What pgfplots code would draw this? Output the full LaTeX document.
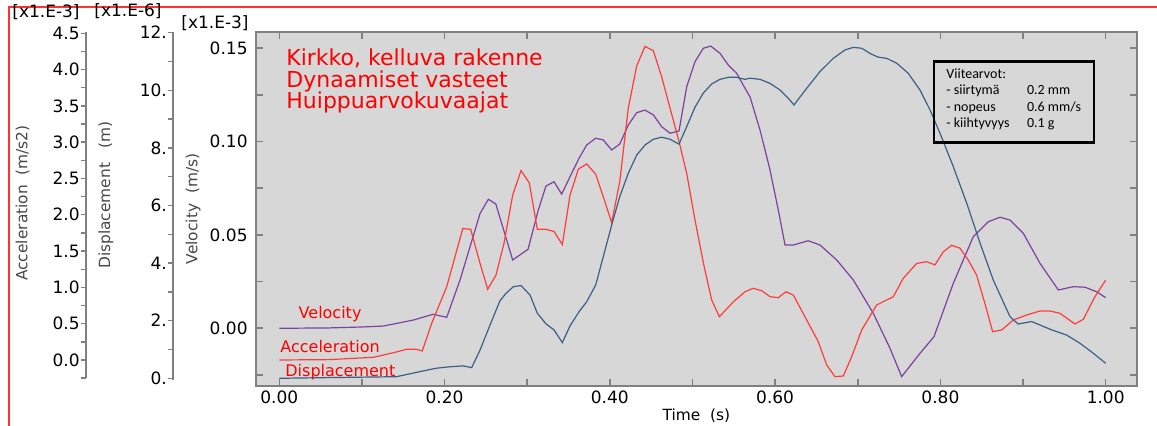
\documentclass[border=0pt]{standalone}
\usepackage{pgfplots}
\pgfplotsset{compat=1.18}
\usepackage{fontspec}
\setmainfont{DejaVu Sans}
\newfontfamily\carlito{Carlito}
\definecolor{bggray}{RGB}{215,215,215}
\definecolor{axgray}{RGB}{128,128,128}
\definecolor{cred}{RGB}{255,60,60}
\definecolor{cpurple}{RGB}{125,65,160}
\definecolor{cblue}{RGB}{60,95,135}
\definecolor{framered}{RGB}{255,50,50}
\newcommand{\tfont}{\fontsize{8.5}{10}\selectfont}
\newcommand{\lfont}{\fontsize{7.7}{9}\selectfont}
\begin{document}
\begin{tikzpicture}
\useasboundingbox (0,0) rectangle (578.5pt,213pt);
% main axis (velocity)
\begin{axis}[at={(128pt,20pt)}, anchor=south west, scale only axis,
  width=440.5pt, height=177pt,
  xmin=-0.0282, xmax=1.0379, ymin=-0.03091, ymax=0.15873,
  axis background/.style={fill=bggray},
  axis line style={axgray, line width=1pt},
  tick align=inside,
  xtick={0,0.2,0.4,0.6,0.8,1}, xticklabels={0.00,0.20,0.40,0.60,0.80,1.00},
  minor xtick={0.1,0.3,0.5,0.7,0.9},
  ytick={0,0.05,0.1,0.15}, yticklabels={0.00,0.05,0.10,0.15},
  minor ytick={-0.025,0.025,0.075,0.125},
  major tick length=3.5pt, minor tick length=3.5pt,
  tick style={axgray, line width=0.8pt},
  xticklabel style={font=\tfont, inner sep=0pt, yshift=-2pt},
  yticklabel style={font=\tfont, inner sep=0pt, xshift=-4pt},
]
\addplot[cpurple, line width=0.6pt] table {
0 0
0.06 0.0002
0.1 0.0007
0.126 0.0012
0.162 0.0044
0.186 0.0075
0.2026 0.0059
0.2187 0.0259
0.243 0.0616
0.253 0.0691
0.262 0.0666
0.2824 0.0366
0.301 0.0423
0.3134 0.0634
0.3227 0.0762
0.3324 0.0785
0.3417 0.0719
0.3518 0.0812
0.3627 0.0911
0.372 0.0982
0.3829 0.1018
0.392 0.1009
0.4022 0.0955
0.412 0.0987
0.4223 0.1089
0.4325 0.1155
0.4425 0.1169
0.4526 0.1143
0.4627 0.108
0.4728 0.1045
0.4837 0.1057
0.493 0.1294
0.503 0.1428
0.513 0.150
0.522 0.1512
0.5333 0.1473
0.5433 0.141
0.5535 0.1366
0.5635 0.1286
0.5696 0.124
0.5817 0.1062
0.5938 0.0848
0.6038 0.0634
0.612 0.0446
0.622 0.0446
0.64 0.0469
0.6543 0.0446
0.6745 0.0366
0.6946 0.0259
0.7188 0.008
0.739 -0.0107
0.7531 -0.0259
0.7753 -0.0134
0.7922 -0.0045
0.8156 0.0241
0.8398 0.0491
0.858 0.0571
0.8721 0.0595
0.8842 0.058
0.9003 0.0509
0.9205 0.0348
0.9427 0.0205
0.9608 0.0223
0.975 0.022
0.989 0.0196
1.0 0.0164
};
\end{axis}
% acceleration curve (x1e-3 m/s2)
\begin{axis}[at={(128pt,20pt)}, anchor=south west, scale only axis,
  width=440.5pt, height=177pt, hide axis,
  xmin=-0.0282, xmax=1.0379, ymin=-0.3581, ymax=4.5179]
\addplot[cred, line width=0.6pt] table {
0 0
0.06 0.005
0.1138 0.037
0.138 0.10
0.154 0.147
0.166 0.147
0.173 0.124
0.1844 0.505
0.2026 1.01
0.222 1.81
0.2316 1.80
0.2429 1.33
0.2522 0.974
0.2622 1.17
0.2719 1.607
0.2824 2.27
0.2925 2.61
0.3025 2.44
0.3122 1.80
0.3227 1.80
0.3324 1.77
0.3425 1.59
0.3518 2.27
0.3619 2.63
0.372 2.70
0.3829 2.56
0.392 2.25
0.4022 1.89
0.412 2.46
0.4223 3.47
0.4325 4.05
0.4425 4.32
0.4526 4.26
0.4627 3.90
0.4728 3.47
0.4837 3.01
0.493 2.57
0.503 1.93
0.5133 1.33
0.5232 0.826
0.5325 0.596
0.5494 0.80
0.5635 0.94
0.5736 0.987
0.5837 0.955
0.5938 0.872
0.6038 0.858
0.6131 0.94
0.622 0.895
0.6382 0.551
0.6522 0.252
0.6624 -0.069
0.6724 -0.23
0.6825 -0.22
0.6926 0.045
0.7047 0.413
0.7229 0.758
0.743 0.872
0.755 1.125
0.7713 1.33
0.7834 1.354
0.7934 1.31
0.8035 1.49
0.8136 1.58
0.8237 1.54
0.8337 1.377
0.8438 1.17
0.8538 0.78
0.8632 0.39
0.8741 0.413
0.8882 0.551
0.9044 0.62
0.9205 0.675
0.9326 0.675
0.9447 0.643
0.9628 0.496
0.9729 0.56
0.987 0.872
1.0 1.10
};
\end{axis}
% displacement curve (x1e-6 m)
\begin{axis}[at={(128pt,20pt)}, anchor=south west, scale only axis,
  width=440.5pt, height=177pt, hide axis,
  xmin=-0.0282, xmax=1.0379, ymin=-0.2674, ymax=12.0243]
\addplot[cblue, line width=0.6pt] table {
0 0
0.142 0.056
0.170 0.23
0.190 0.35
0.2066 0.40
0.2227 0.43
0.2328 0.37
0.2429 0.98
0.255 1.85
0.267 2.69
0.2743 2.95
0.2832 3.18
0.2925 3.22
0.3034 2.89
0.3122 2.26
0.3227 1.89
0.3324 1.68
0.3425 1.24
0.3518 1.82
0.3627 2.31
0.372 2.66
0.3829 3.24
0.392 4.22
0.4022 5.32
0.412 6.31
0.4223 7.12
0.4325 7.75
0.4425 8.10
0.4526 8.30
0.4627 8.37
0.4728 8.30
0.4837 8.13
0.493 8.74
0.503 9.41
0.513 9.90
0.5232 10.22
0.5333 10.38
0.5433 10.45
0.5535 10.45
0.5635 10.38
0.5696 10.42
0.5817 10.38
0.5938 10.24
0.6059 10.01
0.616 9.72
0.6228 9.49
0.6382 10.07
0.6543 10.65
0.6704 11.11
0.6845 11.40
0.6946 11.49
0.7047 11.46
0.7148 11.28
0.7248 11.15
0.735 11.11
0.7471 10.94
0.7611 10.59
0.7753 10.01
0.7874 9.32
0.7995 8.51
0.8156 7.35
0.8318 6.08
0.848 4.69
0.864 3.41
0.8842 2.14
0.894 1.885
0.9104 1.97
0.9347 1.68
0.9528 1.50
0.9689 1.215
0.985 0.87
1.0 0.52
};
\end{axis}
% displacement y axis
\begin{axis}[at={(86.65pt,22.99pt)}, anchor=south west, scale only axis,
  width=1pt, height=174.1pt, xmin=0, xmax=1, ymin=-0.06, ymax=12.03,
  hide x axis, axis y line*=left,
  y axis line style={axgray, line width=0.9pt},
  ytick={0,2,4,6,8,10,12}, yticklabels={0.,2.,4.,6.,8.,10.,12.},
  minor ytick={1,3,5,7,9,11},
  tick align=outside, ytick pos=left,
  major tick length=2.5pt, minor tick length=2.5pt,
  tick style={axgray, line width=0.7pt},
  yticklabel style={font=\tfont, inner sep=0pt, xshift=-0.5pt}]
\end{axis}
% acceleration y axis
\begin{axis}[at={(43pt,23.93pt)}, anchor=south west, scale only axis,
  width=1pt, height=173.15pt, xmin=0, xmax=1, ymin=-0.25, ymax=4.52,
  hide x axis, axis y line*=left,
  y axis line style={axgray, line width=0.9pt},
  ytick={0,0.5,1,1.5,2,2.5,3,3.5,4,4.5},
  yticklabels={0.0,0.5,1.0,1.5,2.0,2.5,3.0,3.5,4.0,4.5},
  minor ytick={-0.25,0.25,0.75,1.25,1.75,2.25,2.75,3.25,3.75,4.25},
  tick align=outside, ytick pos=left,
  major tick length=2.5pt, minor tick length=2.5pt,
  tick style={axgray, line width=0.7pt},
  yticklabel style={font=\tfont, inner sep=0pt, xshift=-0.5pt}]
\end{axis}
% frame lines
\draw[framered, line width=1pt] (4.5pt,0) -- (4.5pt,209.65pt) -- (578.5pt,209.65pt);
% scale labels
\node[font=\tfont] at (23pt,207pt) {[x1.E-3]};
\node[font=\tfont] at (64pt,207.5pt) {[x1.E-6]};
\node[font=\tfont] at (107.5pt,201.25pt) {[x1.E-3]};
% axis titles
\node[font=\lfont, text=black!72, rotate=90] at (11.25pt,111.5pt) {Acceleration\ \ (m/s2)};
\node[font=\lfont, text=black!72, rotate=90] at (53pt,115.5pt) {Displacement\ \ \ (m)};
\node[font=\lfont, text=black!72, rotate=90] at (96.5pt,108.5pt) {Velocity\ \ (m/s)};
\node[font=\lfont] at (348.25pt,5pt) {Time\ \ (s)};
% title
\begin{scope}[every node/.style={font=\fontsize{11}{13}\selectfont, text=red, anchor=base west, inner sep=0pt}]
\node at (143pt,180pt) {Kirkko, kelluva rakenne};
\node at (143pt,169.15pt) {Dynaamiset vasteet};
\node at (143pt,158.85pt) {Huippuarvokuvaajat};
\end{scope}
% curve labels
\begin{scope}[every node/.style={font=\fontsize{8}{9}\selectfont, text=red, anchor=base west, inner sep=0pt}]
\node at (149.15pt,53.85pt) {Velocity};
\node at (140pt,36.85pt) {Acceleration};
\node at (142.5pt,24.65pt) {Displacement};
\end{scope}
% reference values box
\draw[black, line width=1.3pt] (467pt,141.65pt) rectangle (547pt,182.15pt);
\begin{scope}[every node/.style={font=\carlito\fontsize{7}{8}\selectfont, anchor=base west, inner sep=0pt}]
\node at (473pt,173.85pt) {Viitearvot:};
\node at (473pt,165.6pt) {- siirtymä};
\node at (513.35pt,165.6pt) {0.2 mm};
\node at (473pt,157.35pt) {- nopeus};
\node at (513.35pt,157.35pt) {0.6 mm/s};
\node at (473pt,149.1pt) {- kiihtyvyys};
\node at (513.35pt,149.1pt) {0.1 g};
\end{scope}
\end{tikzpicture}
\end{document}
